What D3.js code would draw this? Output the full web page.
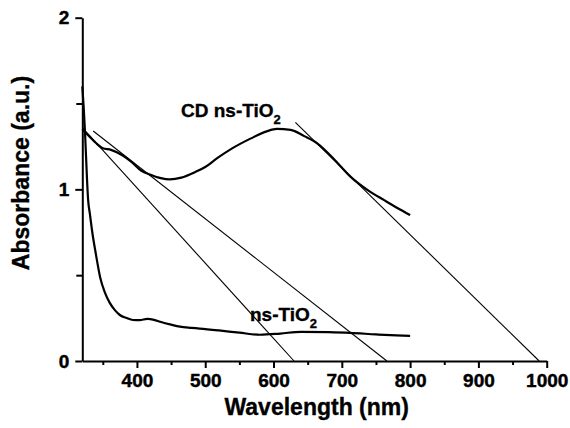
<!DOCTYPE html>
<html>
<head>
<meta charset="utf-8">
<script src="https://cdn.jsdelivr.net/npm/d3@7"></script>
<style>
  html, body { margin: 0; padding: 0; background: #fff; }
  svg { display: block; }
  text { font-family: "Liberation Sans", Arial, sans-serif; font-weight: bold; fill: #000; stroke: #000; stroke-width: 0.35px; }
</style>
</head>
<body>
<svg id="chart" width="570" height="428"></svg>
<script>
// ---- data ----
const nsWavelength = [320, 322, 324, 327, 328.5, 331, 335, 340, 346, 353, 360, 368, 375, 385, 394, 404, 415, 425, 434, 450, 463, 480, 492, 520, 550, 580, 610, 640, 680, 712, 750, 780, 800];
const nsAbsorbance = [1.60, 1.48, 1.33, 1.05, 0.94, 0.86, 0.74, 0.62, 0.49, 0.40, 0.34, 0.295, 0.268, 0.25, 0.239, 0.238, 0.245, 0.24, 0.229, 0.212, 0.200, 0.193, 0.189, 0.178, 0.165, 0.153, 0.160, 0.170, 0.168, 0.164, 0.155, 0.149, 0.146];

const cdWavelength = [320, 330, 340, 350, 362, 378, 392, 406, 420, 435, 448, 465, 485, 500, 517, 540, 567, 590, 605, 625, 645, 664, 690, 713, 740, 762, 782, 800];
const cdAbsorbance = [1.35, 1.31, 1.27, 1.24, 1.23, 1.20, 1.16, 1.11, 1.085, 1.065, 1.058, 1.068, 1.10, 1.13, 1.18, 1.24, 1.297, 1.338, 1.352, 1.347, 1.31, 1.268, 1.17, 1.073, 0.99, 0.937, 0.89, 0.85];

// tangent (extrapolation) lines: [start, end] as [wavelength, absorbance]
const tangentSteep = [[320, 1.36], [630, 0]];
const tangentMid   = [[336, 1.34], [766, 0]];
const tangentCD    = [[632, 1.39], [989, 0]];

const xMajorTicks = [400, 500, 600, 700, 800, 900, 1000];
const xMinorTicks = [350, 450, 550, 650, 750, 850, 950];
const yMajorTicks = [0, 1, 2];
const yMinorTicks = [0.5, 1.5];

const labelCD = ["CD ns-TiO", "2"];
const labelNS = ["ns-TiO", "2"];

// ---- chart ----
const svg = d3.select("#chart");
const x = d3.scaleLinear().domain([320, 1000]).range([82.3, 546.7]);
const y = d3.scaleLinear().domain([0, 2]).range([361, 17.7]);

function styleAxis(g) {
  g.selectAll("path.domain").attr("stroke", "#000").attr("stroke-width", 2);
  g.selectAll(".tick line").attr("stroke", "#000").attr("stroke-width", 2);
  g.selectAll(".tick text").style("font-size", "19px").style("font-weight", "bold")
    .style("font-family", '"Liberation Sans", Arial, sans-serif').attr("fill", "#000")
    .style("stroke", "#000").style("stroke-width", "0.45px");
}

// minor ticks
svg.append("g").attr("transform", `translate(0,${y(0)})`)
  .call(d3.axisBottom(x).tickValues(xMinorTicks).tickSize(4).tickSizeOuter(0).tickFormat(""))
  .call(g => { g.select("path.domain").remove(); styleAxis(g); });
svg.append("g").attr("transform", `translate(${x(320)},0)`)
  .call(d3.axisLeft(y).tickValues(yMinorTicks).tickSize(6).tickSizeOuter(0).tickFormat(""))
  .call(g => { g.select("path.domain").remove(); styleAxis(g); });

// major axes
svg.append("g").attr("transform", `translate(0,${y(0)})`)
  .call(d3.axisBottom(x).tickValues(xMajorTicks).tickSize(7).tickSizeOuter(0).tickPadding(6).tickFormat(d3.format("d")))
  .call(styleAxis);
svg.append("g").attr("transform", `translate(${x(320)},0)`)
  .call(d3.axisLeft(y).tickValues(yMajorTicks).tickSize(7).tickSizeOuter(0).tickPadding(6).tickFormat(d3.format("d")))
  .call(styleAxis);

// tangent lines
const straight = d3.line().x(d => x(d[0])).y(d => y(d[1]));
[tangentSteep, tangentMid, tangentCD].forEach(t => {
  svg.append("path").attr("d", straight(t)).attr("fill", "none")
    .attr("stroke", "#000").attr("stroke-width", 1.1);
});

// curves
const curve = d3.line().x(d => x(d[0])).y(d => y(d[1])).curve(d3.curveMonotoneX);
const nsPts = nsWavelength.map((w, i) => [w, nsAbsorbance[i]]);
const cdPts = cdWavelength.map((w, i) => [w, cdAbsorbance[i]]);
svg.append("path").attr("d", curve(nsPts)).attr("fill", "none")
  .attr("stroke", "#000").attr("stroke-width", 2.2).attr("stroke-linejoin", "round");
svg.append("path").attr("d", curve(cdPts)).attr("fill", "none")
  .attr("stroke", "#000").attr("stroke-width", 2.2).attr("stroke-linejoin", "round");

// series labels
function subLabel(px, py, parts) {
  const t = svg.append("text").attr("x", px).attr("y", py).style("font-size", "19px");
  t.append("tspan").text(parts[0]);
  t.append("tspan").attr("dy", 7).style("font-size", "13px").text(parts[1]);
}
subLabel(181, 116.7, labelCD);
subLabel(250, 320.5, labelNS);

// axis titles
svg.append("text").attr("x", 316.7).attr("y", 415).attr("text-anchor", "middle")
  .style("font-size", "23px").text("Wavelength (nm)");
svg.append("text").attr("transform", "translate(29,173) rotate(-90)").attr("text-anchor", "middle")
  .style("font-size", "23px").text("Absorbance (a.u.)");
</script>
</body>
</html>
